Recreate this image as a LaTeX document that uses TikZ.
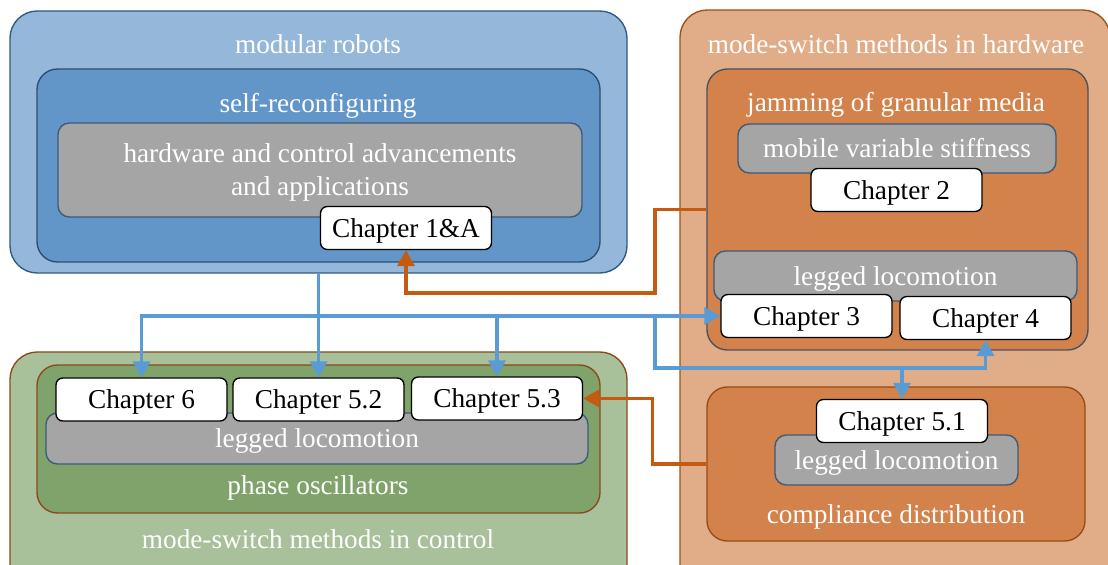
\documentclass[tikz,border=0pt]{standalone}
\usepackage{fontspec}
\setmainfont{Liberation Serif}
\usetikzlibrary{arrows.meta,positioning}
\tikzset{>={Triangle[length=7pt,width=7.5pt]}}
\newcommand{\pxl}{0.44pt}
\definecolor{robotsfill}{HTML}{95B8DA}
\definecolor{robotsline}{HTML}{2E5A87}
\definecolor{selffill}{HTML}{6396C8}
\definecolor{selfline}{HTML}{2A4E72}
\definecolor{topicgray}{HTML}{A5A5A5}
\definecolor{grayline}{HTML}{3E5A78}
\definecolor{hwfill}{HTML}{E1AC88}
\definecolor{hwline}{HTML}{A0501A}
\definecolor{jamfill}{HTML}{D3824B}
\definecolor{jamline}{HTML}{4A5260}
\definecolor{compline}{HTML}{9A4A14}
\definecolor{ctrlfill}{HTML}{A9C19A}
\definecolor{phasefill}{HTML}{7FA36A}
\definecolor{ctrlline}{HTML}{8B4A1A}
\definecolor{linkblue}{HTML}{5B9BD5}
\definecolor{linkorange}{HTML}{C55A11}

\begin{document}
\begin{tikzpicture}[
        x=0.44pt, y=-0.44pt,
        every node/.style={font=\fontsize{12}{14.5}\selectfont},
        dims/.style 2 args={
            minimum width=#1*\pxl,
            minimum height=#2*\pxl,
            inner sep=0pt,
          },
        oneline/.style={text height=10.5pt, text depth=2.5pt},
        area/.style={draw, rounded corners=12pt, line width=0.6pt},
        group/.style={draw, rounded corners=9pt, line width=0.6pt},
        topic/.style={
            draw=grayline,
            fill=topicgray,
            text=white,
            rounded corners=5pt,
            line width=0.6pt,
          },
        chapter/.style={
            draw,
            fill=white,
            rounded corners=3pt,
            line width=0.6pt,
            dims={171}{43},
            oneline,
          },
        caption/.style={text=white, inner sep=0pt, oneline},
        bluelink/.style={->, draw=linkblue, line width=1.5pt},
        orangelink/.style={->, draw=linkorange, line width=1.5pt},
      ]
      \useasboundingbox (0,0) rectangle (1108,565);

      % modular robots
      \node [
        area, fill=robotsfill, draw=robotsline, dims={617}{262}
      ] (robots) at (318.5,142) {};
      \node [caption] (robots-t) at (318,44) {modular robots};
      \node [
        group, fill=selffill, draw=selfline, dims={563}{193}
      ] (selfrec) at (318.5,165.5) {};
      \node [caption] (selfrec-t) at (318,103) {self-reconfiguring};
      \node [
        topic, dims={524}{94}
      ] (hwctrl) at (320,170) {};
      \node [
        caption, text height=, text depth=, align=center
      ] (hwctrl-t) at (320,172) {hardware and control advancements\\ and applications};
      \node [chapter] (ch1) at (406,228) {Chapter 1\&A};

      % mode-switch methods in hardware
      \node [
        area, fill=hwfill, draw=hwline, dims={430}{590}
      ] (hardware) at (895,305) {};
      \node [caption] (hardware-t) at (896,44) {mode-switch methods in hardware};
      \node [
        group, fill=jamfill, draw=jamline, dims={381}{281}
      ] (jam) at (897.5,209.5) {};
      \node [caption] (jam-t) at (896,102) {jamming of granular media};
      \node [
        topic, oneline, dims={318}{49}
      ] (stiff) at (897,148.5) {mobile variable stiffness};
      \node [chapter] (ch2) at (896.5,190) {Chapter 2};
      \node [
        topic, oneline, dims={363}{50}
      ] (legjam) at (895.5,276) {legged locomotion};
      \node [chapter] (ch3) at (806.5,316) {Chapter 3};
      \node [chapter] (ch4) at (985.5,318) {Chapter 4};
      \node [
        group, fill=jamfill, draw=compline, dims={378}{154}
      ] (comp) at (896,464) {};
      \node [caption] (comp-t) at (896,514) {compliance distribution};
      \node [
        topic, oneline, dims={243}{50}
      ] (legcomp) at (896.5,460) {legged locomotion};
      \node [chapter] (ch51) at (902,421) {Chapter 5.1};

      % mode-switch methods in control
      \node [
        area, fill=ctrlfill, draw=ctrlline, dims={617}{248}
      ] (control) at (318.5,476) {};
      \node [caption] (control-t) at (318,539) {mode-switch methods in control};
      \node [
        group, fill=phasefill, draw=ctrlline, dims={563}{148}
      ] (phase) at (318.5,439) {};
      \node [caption] (phase-t) at (318,485) {phase oscillators};
      \node [
        topic, oneline, dims={542}{51}
      ] (legphase) at (317,438.5) {legged locomotion};
      \node [chapter] (ch6) at (141.5,399.5) {Chapter 6};
      \node [chapter] (ch52) at (318.5,399.5) {Chapter 5.2};
      \node [chapter] (ch53) at (497,398.5) {Chapter 5.3};

      % links
      \coordinate (split) at (655,368);
      \coordinate (back) at (655,293);
      \draw[bluelink] (robots.south -| ch52.north) -- (ch52.north);
      \draw[bluelink, <->] (ch6.north) |- (ch3.west);
      \draw[bluelink] (ch53.north |- ch3.west) -- (ch53.north);
      \draw[bluelink] (split |- ch3.west) -- (split) -| (ch4.south);
      \draw[bluelink] (split -| ch51.north) -- (ch51.north);
      \draw[orangelink] (jam.west) -| (back) -| (ch1.south);
      \draw[orangelink] (comp.west) -- ++(-54,0) |- (ch53.east);
    \end{tikzpicture}
\end{document}
